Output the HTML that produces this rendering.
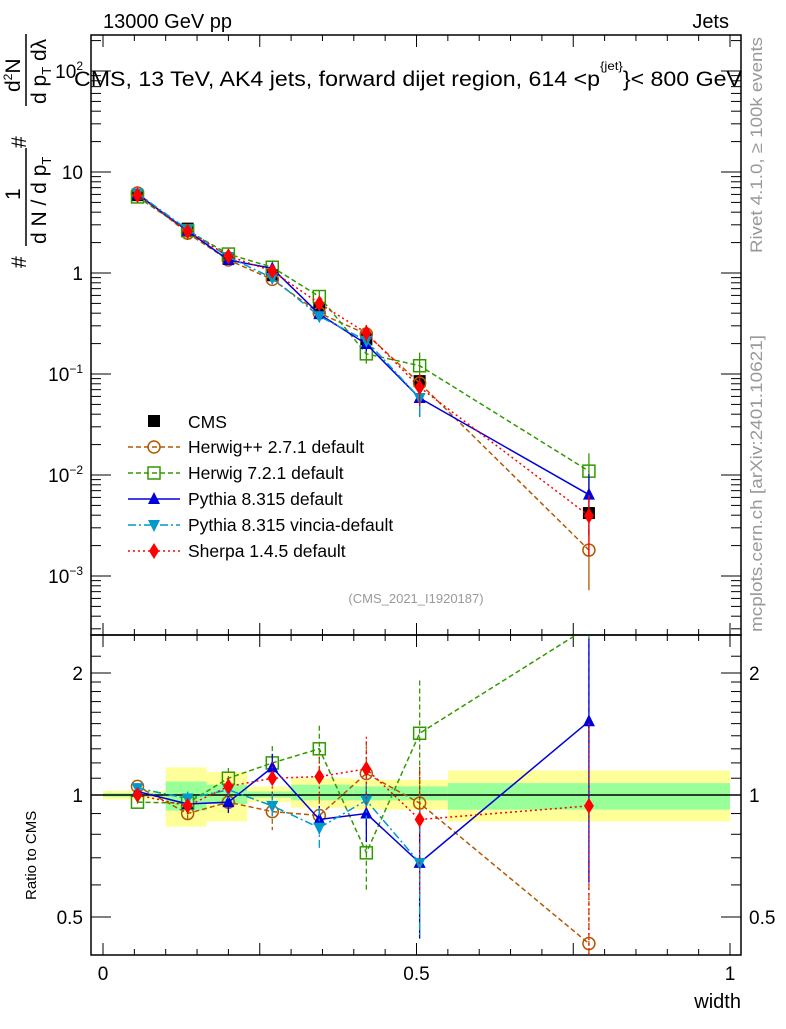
<!DOCTYPE html>
<html><head><meta charset="utf-8"><style>
body{margin:0;background:#fff;}
svg text{font-family:"Liberation Sans",sans-serif;}
</style></head><body>
<svg id="chart" width="786" height="1024" viewBox="0 0 786 1024" xmlns="http://www.w3.org/2000/svg">
<text x="103" y="28" font-size="20">13000 GeV pp</text>
<text x="729" y="28" font-size="20" text-anchor="end">Jets</text>
<text x="74" y="86" font-size="21" textLength="668" lengthAdjust="spacingAndGlyphs">CMS, 13 TeV, AK4 jets, forward dijet region, 614 &lt;p<tspan font-size="12" dy="-16">{jet}</tspan><tspan dy="16">}&lt; 800 GeV</tspan></text>
<g id="bands"></g>
<g id="axes"></g>
<g id="marks"></g>
<g font-size="21">
<text transform="translate(26,268) rotate(-90)">#</text>
<text transform="translate(20,200) rotate(-90)">1</text>
<line x1="26" y1="148" x2="26" y2="246" stroke="#000" stroke-width="1.5"/>
<text transform="translate(46,244) rotate(-90)">d N / d p<tspan font-size="13" dy="5">T</tspan></text>
<text transform="translate(26,148) rotate(-90)">#</text>
<text transform="translate(20,92) rotate(-90)">d<tspan font-size="12" dy="-8">2</tspan><tspan dy="8">N</tspan></text>
<line x1="26" y1="34" x2="26" y2="106" stroke="#000" stroke-width="1.5"/>
<text transform="translate(46,104) rotate(-90)">d p<tspan font-size="13" dy="5">T</tspan><tspan dy="-5"> d</tspan>λ</text>
</g>
<text transform="translate(36,900) rotate(-90)" font-size="15">Ratio to CMS</text>
<text x="741" y="1008" font-size="20" text-anchor="end">width</text>
<text transform="translate(762,253) rotate(-90)" font-size="17" fill="#999" textLength="216" lengthAdjust="spacingAndGlyphs">Rivet 4.1.0, ≥ 100k events</text>
<text transform="translate(762,632) rotate(-90)" font-size="17" fill="#999" textLength="297" lengthAdjust="spacingAndGlyphs">mcplots.cern.ch [arXiv:2401.10621]</text>
<text x="416" y="603" font-size="13" fill="#999" text-anchor="middle">(CMS_2021_I1920187)</text>
<g id="legend"></g>
</svg>
<script>
const xPts=[0.055,0.135,0.2,0.27,0.345,0.42,0.505,0.775];
const cms=[5.9,2.75,1.4,0.95,0.45,0.22,0.085,0.0042];
const binEdges=[0,0.1,0.165,0.23,0.3,0.4,0.45,0.55,1.0];
const yelHi=[1.025,1.17,1.14,1.05,1.10,1.09,1.09,1.15];
const yelLo=[0.975,0.835,0.86,0.96,0.93,0.92,0.92,0.86];
const grnHi=[1.01,1.08,1.06,1.02,1.06,1.05,1.05,1.07];
const grnLo=[0.99,0.915,0.95,0.985,0.97,0.97,0.97,0.92];
const rHerwigpp=[1.05,0.90,0.96,0.91,0.89,1.13,0.955,0.43];
const rHerwig7=[0.96,0.955,1.10,1.20,1.30,0.72,1.42,2.6];
const rPythia=[1.02,0.95,0.96,1.17,0.87,0.90,0.68,1.52];
const rVincia=[1.04,0.98,1.03,0.94,0.83,0.97,0.68,null];
const rSherpa=[1.0,0.94,1.05,1.10,1.11,1.16,0.87,0.94];
const eHerwigpp=[0.02,0.04,0.06,0.1,0.1,0.2,0.2,0.6];
const eHerwig7=[0.02,0.04,0.06,0.1,0.14,0.2,0.35,0.5];
const ePythia=[0.02,0.05,0.06,0.08,0.08,0.15,0.35,0.6];
const eVincia=[0.02,0.04,0.05,0.08,0.12,0.1,0.35,0];
const eSherpa=[0.02,0.04,0.05,0.1,0.12,0.2,0.35,0.6];

const NS='http://www.w3.org/2000/svg';
const L=91,R=741,T=35,M=635,B=955;
const X=v=>103+627*v;
const Y=v=>273-101*Math.log10(v);
const YRraw=r=>795-405.3*Math.log10(r);
function mk(tag,attrs,parent){const e=document.createElementNS(NS,tag);for(const k in attrs)e.setAttribute(k,attrs[k]);parent.appendChild(e);return e;}
const bands=document.getElementById('bands'),axes=document.getElementById('axes'),marks=document.getElementById('marks'),legend=document.getElementById('legend');

const defs=mk('defs',{},document.getElementById('chart'));
const c1=mk('clipPath',{id:'cm'},defs);mk('rect',{x:L,y:T,width:R-L,height:M-T},c1);
const c2=mk('clipPath',{id:'cr'},defs);mk('rect',{x:L,y:M,width:R-L,height:B-M},c2);

for(let i=0;i<cms.length;i++){
  const x0=X(binEdges[i]),x1=X(binEdges[i+1]);
  const y=mk('rect',{x:x0,y:YRraw(yelHi[i]),width:x1-x0,height:YRraw(yelLo[i])-YRraw(yelHi[i]),fill:'#ffff99'},bands);
  
  
  const g=mk('rect',{x:x0,y:YRraw(grnHi[i]),width:x1-x0,height:YRraw(grnLo[i])-YRraw(grnHi[i]),fill:'#99ff99'},bands);
  
  
}
const one=mk('line',{x1:L,x2:R,y1:YRraw(1),y2:YRraw(1),stroke:'#000','stroke-width':1.5},bands);



const f1=mk('rect',{x:L,y:T,width:R-L,height:M-T,fill:'none',stroke:'#000','stroke-width':1.5},axes);


const f2=mk('rect',{x:L,y:M,width:R-L,height:B-M,fill:'none',stroke:'#000','stroke-width':1.5},axes);


for(let i=0;i<=20;i++){const v=i*0.05;const x=X(v);const big=i%5==0;const len=big?12:6;
  for(const [yt,yb] of [[T,M],[M,B]]){mk('line',{x1:x,x2:x,y1:yt,y2:yt+len,stroke:'#000'},axes);mk('line',{x1:x,x2:x,y1:yb,y2:yb-len,stroke:'#000'},axes);}
}
const xTickLabels=['0','0.5','1'];
[0,0.5,1].forEach((v,i)=>{const t=mk('text',{x:X(v),y:980,'font-size':19,'text-anchor':'middle'},axes);t.textContent=xTickLabels[i];

});
for(let d=-4;d<=2;d++){for(let m=1;m<=9;m++){const v=m*Math.pow(10,d);const y=Y(v);if(y<T||y>M)continue;const len=m==1?20:10;
 mk('line',{x1:L,x2:L+len,y1:y,y2:y,stroke:'#000'},axes);mk('line',{x1:R,x2:R-len,y1:y,y2:y,stroke:'#000'},axes);}}
const yTickVals=[100,10,1,0.1,0.01,0.001];
const yTickTxt=['10<tspan font-size="12" dy="-8">2</tspan>','10','1','10<tspan font-size="12" dy="-8">−1</tspan>','10<tspan font-size="12" dy="-8">−2</tspan>','10<tspan font-size="12" dy="-8">−3</tspan>'];
yTickVals.forEach((v,i)=>{const t=mk('text',{x:83,y:Y(v)+7,'font-size':19,'text-anchor':'end'},axes);t.innerHTML=yTickTxt[i];

});
for(const r of [0.5,0.6,0.7,0.8,0.9,1,1.1,1.2,1.3,1.4,1.5,1.6,1.7,1.8,1.9,2,2.2]){const y=YRraw(r);if(y<M||y>B)continue;const len=(r==0.5||r==1||r==2)?20:10;
 mk('line',{x1:L,x2:L+len,y1:y,y2:y,stroke:'#000'},axes);mk('line',{x1:R,x2:R-len,y1:y,y2:y,stroke:'#000'},axes);}
const rTicks=[2,1,0.5],rTickTxt=['2','1','0.5'];
rTicks.forEach((v,i)=>{for(const [x,a] of [[83,'end'],[749,'start']]){const t=mk('text',{x:x,y:YRraw(v)+7,'font-size':19,'text-anchor':a},axes);t.textContent=rTickTxt[i];

}});

function marker(type,x,y,col,parent){
 const s=6;
 if(type=='sq')return mk('rect',{x:x-s,y:y-s,width:2*s,height:2*s,fill:'#000'},parent);
 if(type=='circ')return mk('circle',{cx:x,cy:y,r:s,fill:'none',stroke:col,'stroke-width':1.5},parent);
 if(type=='osq')return mk('rect',{x:x-s,y:y-s,width:2*s,height:2*s,fill:'none',stroke:col,'stroke-width':1.5},parent);
 if(type=='up')return mk('polygon',{points:`${x},${y-s-1} ${x-s},${y+s-1} ${x+s},${y+s-1}`,fill:col},parent);
 if(type=='dn')return mk('polygon',{points:`${x},${y+s+1} ${x-s},${y-s+1} ${x+s},${y-s+1}`,fill:col},parent);
 if(type=='dia')return mk('polygon',{points:`${x},${y-8} ${x-5},${y} ${x},${y+8} ${x+5},${y}`,fill:col},parent);
}
const series=[
 {name:'herwigpp',r:rHerwigpp,e:eHerwigpp,col:'#b35900',dash:'5,3',m:'circ',label:'Herwig++ 2.7.1 default'},
 {name:'herwig7',r:rHerwig7,e:eHerwig7,col:'#339900',dash:'5,3',m:'osq',label:'Herwig 7.2.1 default'},
 {name:'pythia',r:rPythia,e:ePythia,col:'#0000dd',dash:'',m:'up',label:'Pythia 8.315 default'},
 {name:'vincia',r:rVincia,e:eVincia,col:'#0099cc',dash:'8,3,2,3',m:'dn',label:'Pythia 8.315 vincia-default'},
 {name:'sherpa',r:rSherpa,e:eSherpa,col:'#ff0000',dash:'2,3',m:'dia',label:'Sherpa 1.4.5 default'}
];
cms.forEach((v,i)=>{const m=marker('sq',X(xPts[i]),Y(v),'#000',marks);

});
series.forEach(s=>{
 const gm=mk('g',{'clip-path':'url(#cm)'},marks),gr=mk('g',{'clip-path':'url(#cr)'},marks);
 const pm=[],pr=[];
 s.r.forEach((r,i)=>{if(r==null)return;const x=X(xPts[i]);pm.push([x,Y(cms[i]*r)]);pr.push([x,YRraw(r)]);
  const e=s.e[i];
  if(e>0){mk('line',{x1:x,x2:x,y1:YRraw(r*(1+e)),y2:YRraw(Math.max(0.3,r*(1-e))),stroke:s.col,'stroke-width':1.3,'stroke-dasharray':s.dash},gr);
   mk('line',{x1:x,x2:x,y1:Y(cms[i]*r*(1+e)),y2:Y(cms[i]*r*(1-e)),stroke:s.col,'stroke-width':1.3},gm);}
 });
 const l1=mk('polyline',{points:pm.map(p=>p.join(',')).join(' '),fill:'none',stroke:s.col,'stroke-width':1.5,'stroke-dasharray':s.dash},gm);
 
 
 const l2=mk('polyline',{points:pr.map(p=>p.join(',')).join(' '),fill:'none',stroke:s.col,'stroke-width':1.5,'stroke-dasharray':s.dash},gr);
 
 
 pm.forEach(p=>{const m=marker(s.m,p[0],p[1],s.col,gm);
 
 });
 pr.forEach(p=>{const m=marker(s.m,p[0],p[1],s.col,gr);
 
 });
});
const lg0=mk('g',{},legend);


marker('sq',154,421,'#000',lg0);
const lt0=mk('text',{x:188,y:428,'font-size':17.5},lg0);lt0.textContent='CMS';
series.forEach((s,i)=>{const y=447+i*26;const g=mk('g',{},legend);
 
 
 mk('line',{x1:128,x2:180,y1:y,y2:y,stroke:s.col,'stroke-width':1.5,'stroke-dasharray':s.dash},g);
 marker(s.m,154,y,s.col,g);
 const t=mk('text',{x:188,y:y+6,'font-size':17.5},g);t.textContent=s.label;});
</script>
</body></html>
